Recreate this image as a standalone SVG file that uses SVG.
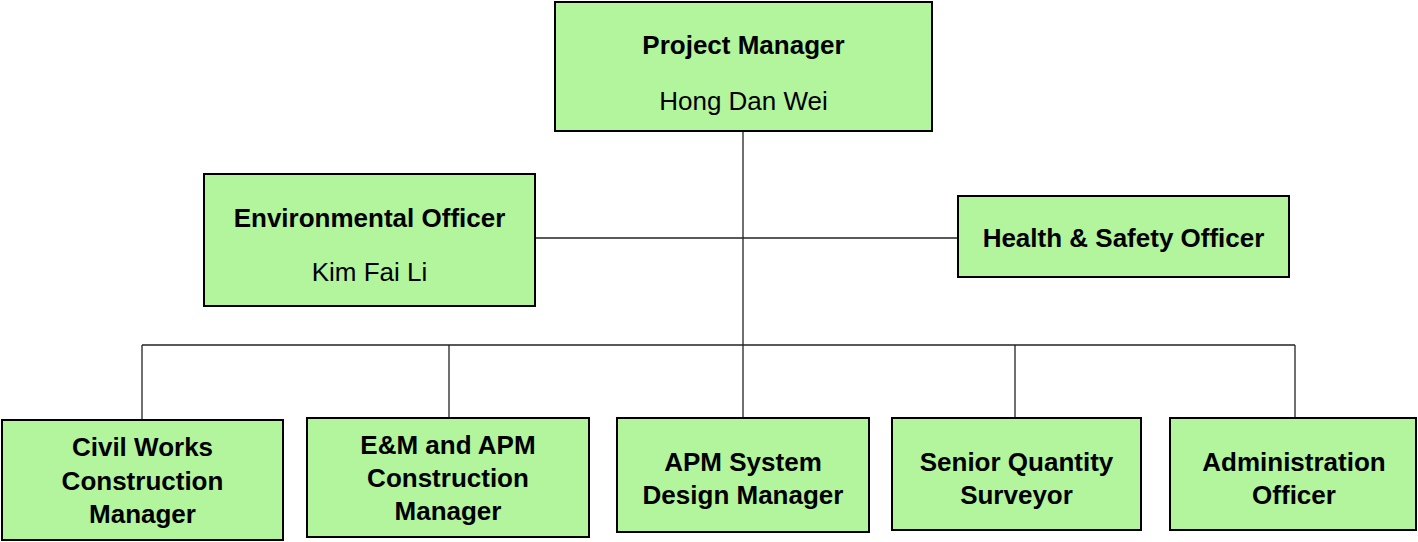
<svg xmlns="http://www.w3.org/2000/svg" width="1418" height="542" viewBox="0 0 1418 542">
<style>
.box{fill:#b3f59c;stroke:#000;stroke-width:2}
.t{font-family:"Liberation Sans",Arial,sans-serif;font-size:26px;fill:#000;text-anchor:middle}
.b{font-weight:bold}
.c{stroke:#222;stroke-width:1.3;fill:none}
</style>
<rect width="1418" height="542" fill="#fff"/>
<g id="connectors">
<line class="c" x1="743" y1="131" x2="743" y2="418"/>
<line class="c" x1="535" y1="238" x2="958" y2="238"/>
<line class="c" x1="142" y1="345" x2="1295" y2="345"/>
<line class="c" x1="142" y1="345" x2="142" y2="420"/>
<line class="c" x1="449" y1="345" x2="449" y2="418"/>
<line class="c" x1="1015" y1="345" x2="1015" y2="418"/>
<line class="c" x1="1295" y1="345" x2="1295" y2="418"/>
</g>
<g id="project-manager">
<rect class="box" x="555" y="2" width="377" height="129"/>
<text class="t b" x="743.5" y="54">Project Manager</text>
<text class="t" x="743.5" y="110">Hong Dan Wei</text>
</g>
<g id="environmental-officer">
<rect class="box" x="204" y="174" width="331" height="132"/>
<text class="t b" x="369.5" y="227">Environmental Officer</text>
<text class="t" x="369.5" y="281">Kim Fai Li</text>
</g>
<g id="health-safety-officer">
<rect class="box" x="958" y="196" width="331" height="81"/>
<text class="t b" x="1123.5" y="247">Health &amp; Safety Officer</text>
</g>
<g id="civil-works">
<rect class="box" x="2" y="420" width="281" height="120"/>
<text class="t b" x="142.5" y="456">Civil Works</text>
<text class="t b" x="142.5" y="490">Construction</text>
<text class="t b" x="142.5" y="523">Manager</text>
</g>
<g id="em-apm">
<rect class="box" x="307" y="418" width="282" height="119"/>
<text class="t b" x="448" y="454">E&amp;M and APM</text>
<text class="t b" x="448" y="487">Construction</text>
<text class="t b" x="448" y="520">Manager</text>
</g>
<g id="apm-system">
<rect class="box" x="617" y="418" width="252" height="114"/>
<text class="t b" x="743" y="471">APM System</text>
<text class="t b" x="743" y="504">Design Manager</text>
</g>
<g id="senior-qs">
<rect class="box" x="892" y="418" width="249" height="112"/>
<text class="t b" x="1016.5" y="471">Senior Quantity</text>
<text class="t b" x="1016.5" y="504">Surveyor</text>
</g>
<g id="admin-officer">
<rect class="box" x="1170" y="418" width="246" height="112"/>
<text class="t b" x="1294" y="471">Administration</text>
<text class="t b" x="1294" y="504">Officer</text>
</g>
</svg>
